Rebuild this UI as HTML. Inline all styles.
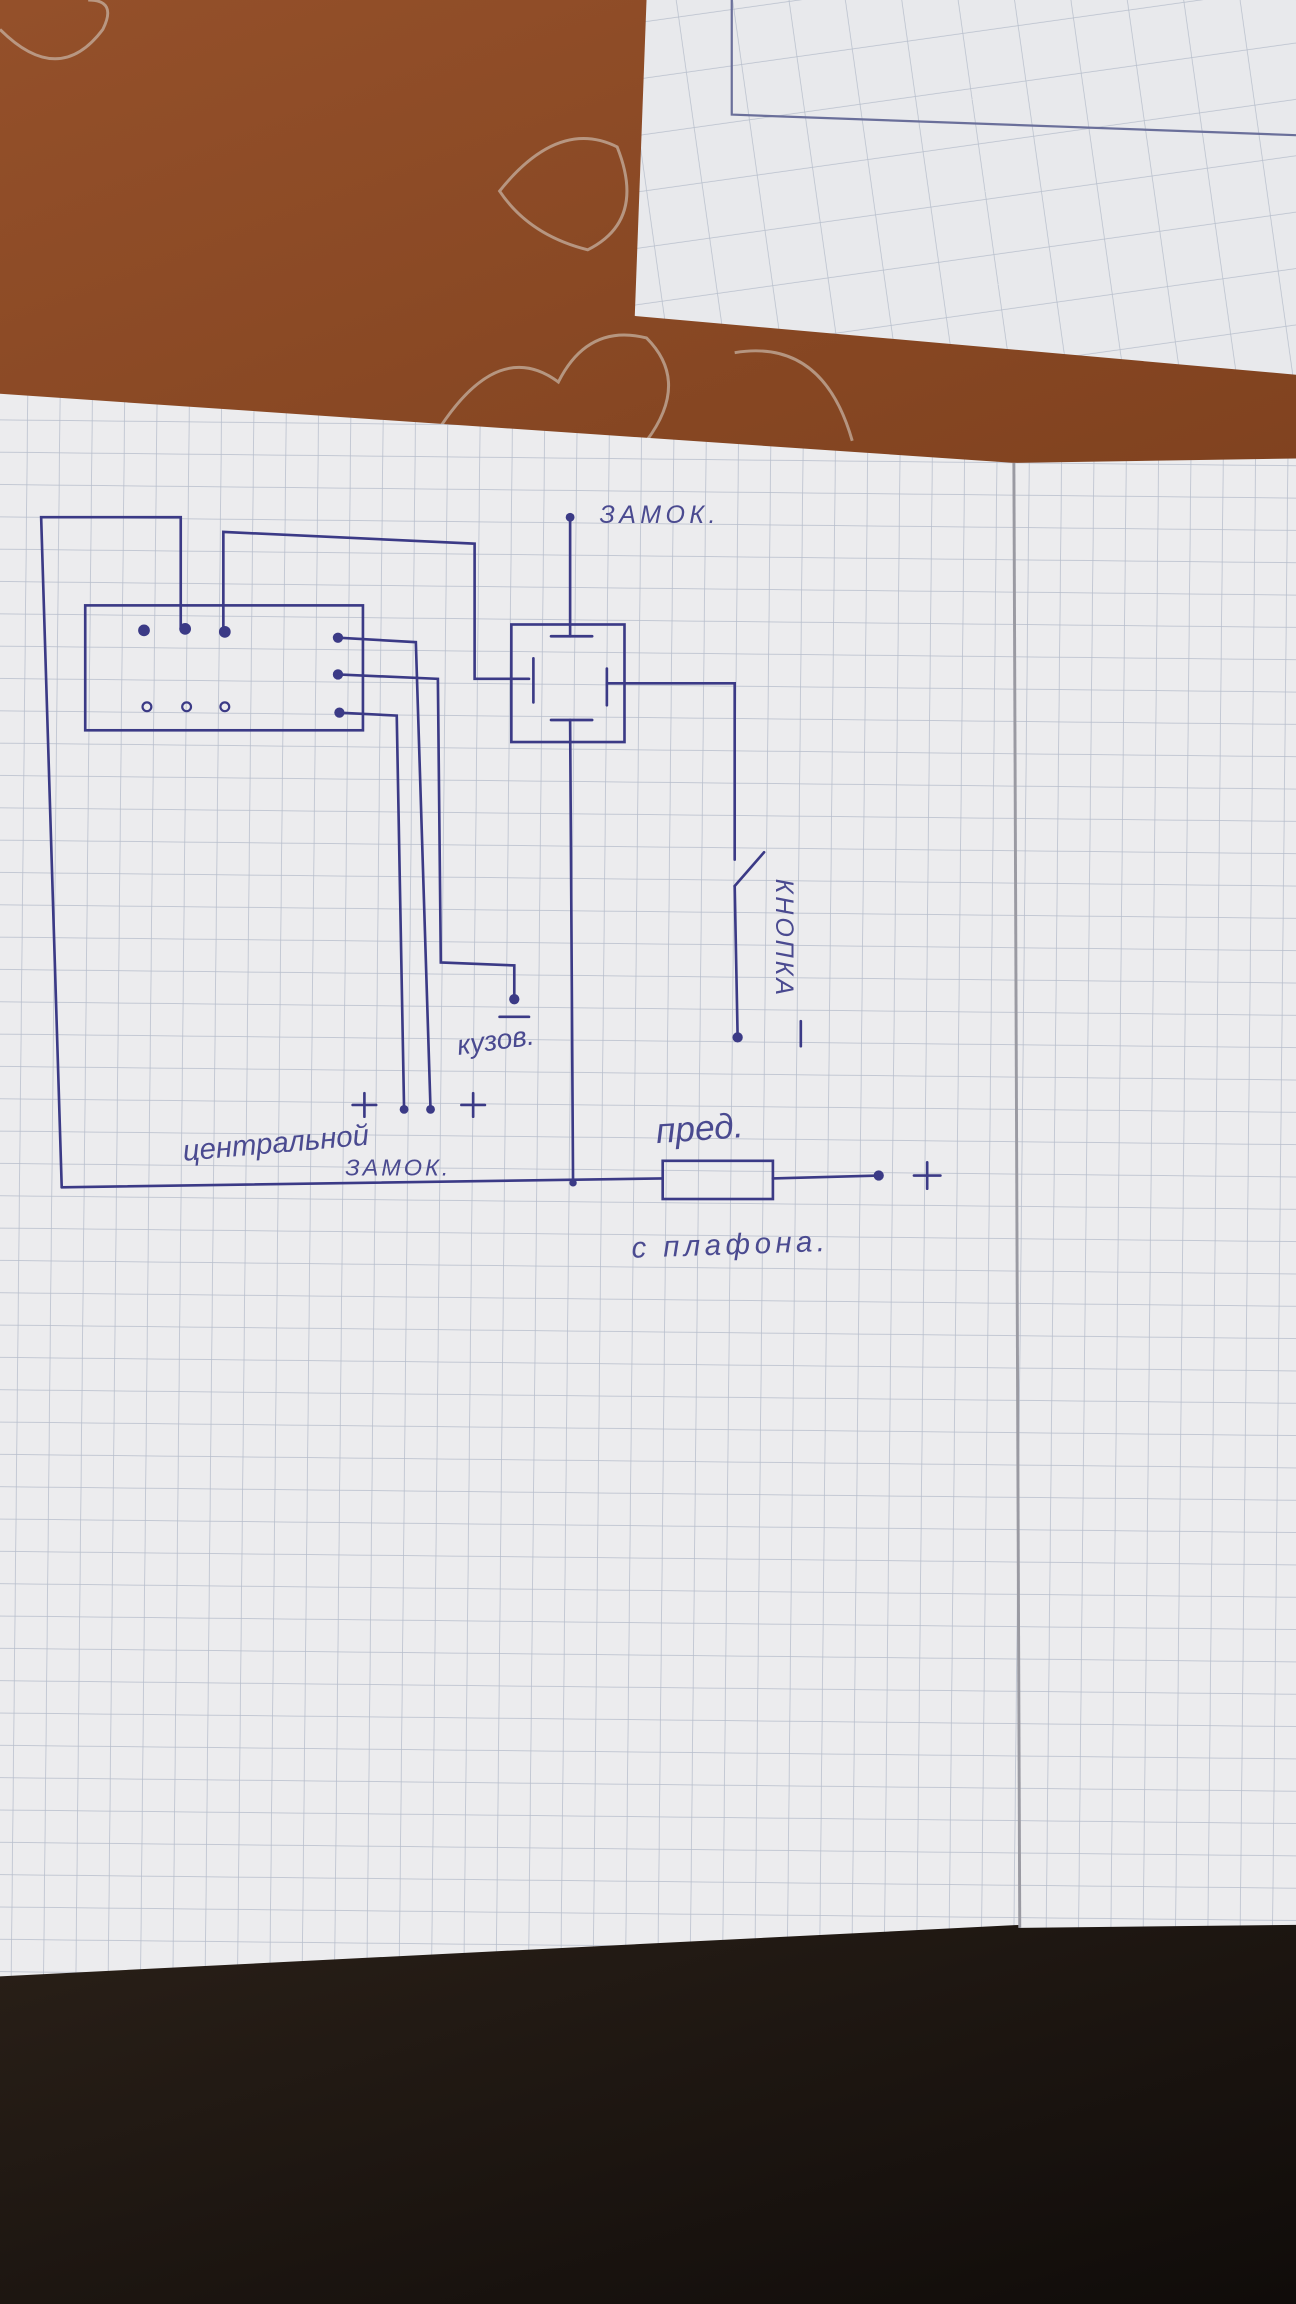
<!DOCTYPE html>
<html><head><meta charset="utf-8"><style>
html,body{margin:0;padding:0;width:1296px;height:2304px;overflow:hidden;background:#1c1612}
svg{display:block}
</style></head><body>
<svg width="1296" height="2304" viewBox="0 0 882 1568" preserveAspectRatio="none" xmlns="http://www.w3.org/2000/svg">
<defs>
<pattern id="g" width="22" height="22" patternUnits="userSpaceOnUse" patternTransform="rotate(0.6)">
<rect width="22" height="22" fill="#ececee"/>
<path d="M22 0V22M0 22H22" stroke="#b6bdcb" stroke-width="1"/>
</pattern>
<pattern id="g2" width="38" height="38" patternUnits="userSpaceOnUse" patternTransform="rotate(-8)">
<rect width="38" height="38" fill="#e8e9ec"/>
<path d="M38 0V38M0 38H38" stroke="#b8bfcc" stroke-width="1"/>
</pattern>
<linearGradient id="w" x1="0" y1="0" x2="1" y2="1">
<stop offset="0" stop-color="#94502a"/><stop offset="1" stop-color="#80421f"/></linearGradient>
<linearGradient id="d" x1="0" y1="0" x2="1" y2="1">
<stop offset="0" stop-color="#2a2018"/><stop offset="1" stop-color="#100c0a"/></linearGradient>
</defs>
<rect x="0" y="0" width="882" height="330" fill="url(#w)"/>
<path d="M0 1320 L882 1300 L882 1568 L0 1568Z" fill="url(#d)"/>
<g fill="none" stroke="#c9b7a8" stroke-width="2" opacity="0.7">
<path d="M0 20 Q40 60 70 20 Q80 0 60 0"/>
<path d="M340 130 Q380 80 420 100 Q440 150 400 170 Q360 160 340 130Z"/>
<path d="M300 290 Q340 230 380 260 Q400 220 440 230 Q470 260 440 300"/>
<path d="M500 240 Q560 230 580 300"/>
</g>
<polygon points="440,0 882,0 882,255 432,215" fill="url(#g2)"/>
<polyline points="498,0 498,78 882,92" fill="none" stroke="#6a6f9a" stroke-width="1.5"/>
<polygon points="0,268 690,315 694,1310 0,1345" fill="url(#g)"/>
<polygon points="690,315 882,312 882,1310 694,1312" fill="url(#g)"/>
<line x1="690" y1="315" x2="694" y2="1312" stroke="#9a9aa2" stroke-width="2"/>
<g fill="none" stroke="#3b3a86" stroke-width="1.8" stroke-linecap="round">
<polyline points="42,808 28,352 123,352 123,428"/>
<polyline points="152,428 152,362 323,370 323,462 360,462"/>
<line x1="42" y1="808" x2="451" y2="802"/>
<rect x="451" y="790" width="75" height="26"/>
<line x1="526" y1="802" x2="598" y2="800"/>
<line x1="622" y1="800" x2="640" y2="800"/><line x1="631" y1="791" x2="631" y2="809"/>
<rect x="58" y="412" width="189" height="85"/>
<rect x="348" y="425" width="77" height="80"/>
<line x1="388" y1="352" x2="388" y2="433"/>
<line x1="375" y1="433" x2="403" y2="433"/>
<line x1="363" y1="448" x2="363" y2="478"/>
<line x1="413" y1="455" x2="413" y2="480"/>
<line x1="375" y1="490" x2="403" y2="490"/>
<line x1="388" y1="490" x2="390" y2="805"/>
<polyline points="413,465 500,465 500,585"/>
<line x1="500" y1="603" x2="520" y2="580"/>
<line x1="500" y1="603" x2="502" y2="706"/>
<line x1="545" y1="695" x2="545" y2="712"/>
<polyline points="230,434 283,437 293,755"/>
<polyline points="230,459 298,462 300,655 350,657 350,680"/>
<polyline points="231,485 270,487 275,755"/>
<line x1="340" y1="692" x2="360" y2="692"/>
<line x1="240" y1="752" x2="256" y2="752"/><line x1="248" y1="744" x2="248" y2="760"/>
<line x1="314" y1="752" x2="330" y2="752"/><line x1="322" y1="744" x2="322" y2="760"/>
</g>
<g fill="#3b3a86">
<circle cx="98" cy="429" r="4"/><circle cx="126" cy="428" r="4"/><circle cx="153" cy="430" r="4"/>
<circle cx="230" cy="434" r="3.5"/><circle cx="230" cy="459" r="3.5"/><circle cx="231" cy="485" r="3.5"/>
<circle cx="388" cy="352" r="3"/><circle cx="598" cy="800" r="3.5"/><circle cx="502" cy="706" r="3.5"/>
<circle cx="350" cy="680" r="3.5"/><circle cx="275" cy="755" r="3"/><circle cx="293" cy="755" r="3"/>
<circle cx="390" cy="805" r="2.5"/>
</g>
<g fill="none" stroke="#3b3a86" stroke-width="1.5">
<circle cx="100" cy="481" r="3"/><circle cx="127" cy="481" r="3"/><circle cx="153" cy="481" r="3"/>
</g>
<g fill="#4a4a90" font-family="Liberation Sans, sans-serif" font-style="italic">
<text x="408" y="356" font-size="17" letter-spacing="3">ЗАМОК.</text>
<text x="312" y="718" font-size="19" transform="rotate(-8 312 718)">кузов.</text>
<text x="125" y="790" font-size="20" transform="rotate(-5 125 790)">центральной</text>
<text x="235" y="800" font-size="16" letter-spacing="2">ЗАМОК.</text>
<text x="447" y="778" font-size="24" transform="rotate(-4 447 778)">пред.</text>
<text x="430" y="856" font-size="20" letter-spacing="3" transform="rotate(-2 430 856)">с плафона.</text>
<text x="0" y="0" font-size="17" letter-spacing="2" transform="translate(528 598) rotate(90)">КНОПКА</text>
</g>
</svg>
</body></html>
